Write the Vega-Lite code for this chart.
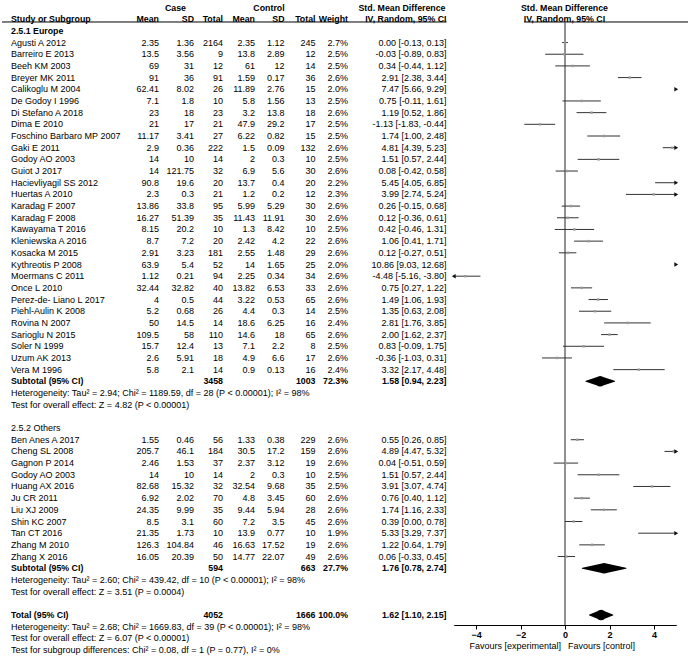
{
  "$schema": "https://vega.github.io/schema/vega-lite/v6.json",
  "width": 688,
  "height": 659,
  "autosize": "none",
  "padding": 0,
  "background": "white",
  "config": {"view": {"stroke": null}},
  "datasets": {
    "cols": [
      {"col": "study", "slot": 1}, {"col": "cm", "slot": 2}, {"col": "csd", "slot": 3}, {"col": "cn", "slot": 4},
      {"col": "km", "slot": 5}, {"col": "ksd", "slot": 6}, {"col": "kn", "slot": 7}, {"col": "w", "slot": 8},
      {"col": "ci", "slot": 9}, {"col": "caseHdr", "slot": 10}, {"col": "ctrlHdr", "slot": 11}, {"col": "smdHdr", "slot": 12},
      {"col": "ph", "slot": 15}
    ],
    "fav": [
      {"label": "Favours [experimental]", "side": "exp"},
      {"label": "Favours [control]", "side": "ctl"}
    ],
    "tbl": [
      {"row": 0, "type": "grp", "caseHdr": "Case", "ctrlHdr": "Control", "smdHdr": "Std. Mean Difference", "ph": "Std. Mean Difference"},
      {"row": 1, "type": "hdr", "study": "Study or Subgroup", "cm": "Mean", "csd": "SD", "cn": "Total", "km": "Mean", "ksd": "SD", "kn": "Total", "w": "Weight", "ci": "IV, Random, 95% CI", "ph": "IV, Random, 95% CI"},
      {"row": 2, "type": "sec1", "study": "2.5.1 Europe"},
      {"row": 3, "type": "study", "study": "Agusti A 2012", "cm": 2.35, "csd": 1.36, "cn": 2164, "km": 2.35, "ksd": 1.12, "kn": 245, "w": "2.7%", "ci": "0.00 [-0.13, 0.13]", "est": 0.00, "lo": -0.13, "hi": 0.13},
      {"row": 4, "type": "study", "study": "Barreiro E 2013", "cm": 13.5, "csd": 3.56, "cn": 9, "km": 13.8, "ksd": 2.89, "kn": 12, "w": "2.5%", "ci": "-0.03 [-0.89, 0.83]", "est": -0.03, "lo": -0.89, "hi": 0.83},
      {"row": 5, "type": "study", "study": "Beeh KM 2003", "cm": 69, "csd": 31, "cn": 12, "km": 61, "ksd": 12, "kn": 14, "w": "2.5%", "ci": "0.34 [-0.44, 1.12]", "est": 0.34, "lo": -0.44, "hi": 1.12},
      {"row": 6, "type": "study", "study": "Breyer MK 2011", "cm": 91, "csd": 36, "cn": 91, "km": 1.59, "ksd": 0.17, "kn": 36, "w": "2.6%", "ci": "2.91 [2.38, 3.44]", "est": 2.91, "lo": 2.38, "hi": 3.44},
      {"row": 7, "type": "study", "study": "Calikoglu M 2004", "cm": 62.41, "csd": 8.02, "cn": 26, "km": 11.89, "ksd": 2.76, "kn": 15, "w": "2.0%", "ci": "7.47 [5.66, 9.29]", "est": 7.47, "lo": 5.66, "hi": 9.29},
      {"row": 8, "type": "study", "study": "De Godoy I 1996", "cm": 7.1, "csd": 1.8, "cn": 10, "km": 5.8, "ksd": 1.56, "kn": 13, "w": "2.5%", "ci": "0.75 [-0.11, 1.61]", "est": 0.75, "lo": -0.11, "hi": 1.61},
      {"row": 9, "type": "study", "study": "Di Stefano A 2018", "cm": 23, "csd": 18, "cn": 23, "km": 3.2, "ksd": 13.8, "kn": 18, "w": "2.6%", "ci": "1.19 [0.52, 1.86]", "est": 1.19, "lo": 0.52, "hi": 1.86},
      {"row": 10, "type": "study", "study": "Dima E 2010", "cm": 21, "csd": 17, "cn": 21, "km": 47.9, "ksd": 29.2, "kn": 17, "w": "2.5%", "ci": "-1.13 [-1.83, -0.44]", "est": -1.13, "lo": -1.83, "hi": -0.44},
      {"row": 11, "type": "study", "study": "Foschino Barbaro MP 2007", "cm": 11.17, "csd": 3.41, "cn": 27, "km": 6.22, "ksd": 0.82, "kn": 15, "w": "2.5%", "ci": "1.74 [1.00, 2.48]", "est": 1.74, "lo": 1.00, "hi": 2.48},
      {"row": 12, "type": "study", "study": "Gaki E 2011", "cm": 2.9, "csd": 0.36, "cn": 222, "km": 1.5, "ksd": 0.09, "kn": 132, "w": "2.6%", "ci": "4.81 [4.39, 5.23]", "est": 4.81, "lo": 4.39, "hi": 5.23},
      {"row": 13, "type": "study", "study": "Godoy AO 2003", "cm": 14, "csd": 10, "cn": 14, "km": 2, "ksd": 0.3, "kn": 10, "w": "2.5%", "ci": "1.51 [0.57, 2.44]", "est": 1.51, "lo": 0.57, "hi": 2.44},
      {"row": 14, "type": "study", "study": "Guiot J 2017", "cm": 14, "csd": 121.75, "cn": 32, "km": 6.9, "ksd": 5.6, "kn": 30, "w": "2.6%", "ci": "0.08 [-0.42, 0.58]", "est": 0.08, "lo": -0.42, "hi": 0.58},
      {"row": 15, "type": "study", "study": "Hacievliyagil SS 2012", "cm": 90.8, "csd": 19.6, "cn": 20, "km": 13.7, "ksd": 0.4, "kn": 20, "w": "2.2%", "ci": "5.45 [4.05, 6.85]", "est": 5.45, "lo": 4.05, "hi": 6.85},
      {"row": 16, "type": "study", "study": "Huertas A 2010", "cm": 2.3, "csd": 0.3, "cn": 21, "km": 1.2, "ksd": 0.2, "kn": 12, "w": "2.3%", "ci": "3.99 [2.74, 5.24]", "est": 3.99, "lo": 2.74, "hi": 5.24},
      {"row": 17, "type": "study", "study": "Karadag F 2007", "cm": 13.86, "csd": 33.8, "cn": 95, "km": 5.99, "ksd": 5.29, "kn": 30, "w": "2.6%", "ci": "0.26 [-0.15, 0.68]", "est": 0.26, "lo": -0.15, "hi": 0.68},
      {"row": 18, "type": "study", "study": "Karadag F 2008", "cm": 16.27, "csd": 51.39, "cn": 35, "km": 11.43, "ksd": 11.91, "kn": 30, "w": "2.6%", "ci": "0.12 [-0.36, 0.61]", "est": 0.12, "lo": -0.36, "hi": 0.61},
      {"row": 19, "type": "study", "study": "Kawayama T 2016", "cm": 8.15, "csd": 20.2, "cn": 10, "km": 1.3, "ksd": 8.42, "kn": 10, "w": "2.5%", "ci": "0.42 [-0.46, 1.31]", "est": 0.42, "lo": -0.46, "hi": 1.31},
      {"row": 20, "type": "study", "study": "Kleniewska A 2016", "cm": 8.7, "csd": 7.2, "cn": 20, "km": 2.42, "ksd": 4.2, "kn": 22, "w": "2.6%", "ci": "1.06 [0.41, 1.71]", "est": 1.06, "lo": 0.41, "hi": 1.71},
      {"row": 21, "type": "study", "study": "Kosacka M 2015", "cm": 2.91, "csd": 3.23, "cn": 181, "km": 2.55, "ksd": 1.48, "kn": 29, "w": "2.6%", "ci": "0.12 [-0.27, 0.51]", "est": 0.12, "lo": -0.27, "hi": 0.51},
      {"row": 22, "type": "study", "study": "Kythreotis P 2008", "cm": 63.9, "csd": 5.4, "cn": 52, "km": 14, "ksd": 1.65, "kn": 25, "w": "2.0%", "ci": "10.86 [9.03, 12.68]", "est": 10.86, "lo": 9.03, "hi": 12.68},
      {"row": 23, "type": "study", "study": "Moermans C 2011", "cm": 1.12, "csd": 0.21, "cn": 94, "km": 2.25, "ksd": 0.34, "kn": 34, "w": "2.6%", "ci": "-4.48 [-5.16, -3.80]", "est": -4.48, "lo": -5.16, "hi": -3.80},
      {"row": 24, "type": "study", "study": "Once L 2010", "cm": 32.44, "csd": 32.82, "cn": 40, "km": 13.82, "ksd": 6.53, "kn": 33, "w": "2.6%", "ci": "0.75 [0.27, 1.22]", "est": 0.75, "lo": 0.27, "hi": 1.22},
      {"row": 25, "type": "study", "study": "Perez-de- Liano L 2017", "cm": 4, "csd": 0.5, "cn": 44, "km": 3.22, "ksd": 0.53, "kn": 65, "w": "2.6%", "ci": "1.49 [1.06, 1.93]", "est": 1.49, "lo": 1.06, "hi": 1.93},
      {"row": 26, "type": "study", "study": "Piehl-Aulin K 2008", "cm": 5.2, "csd": 0.68, "cn": 26, "km": 4.4, "ksd": 0.3, "kn": 14, "w": "2.5%", "ci": "1.35 [0.63, 2.08]", "est": 1.35, "lo": 0.63, "hi": 2.08},
      {"row": 27, "type": "study", "study": "Rovina N 2007", "cm": 50, "csd": 14.5, "cn": 14, "km": 18.6, "ksd": 6.25, "kn": 16, "w": "2.4%", "ci": "2.81 [1.76, 3.85]", "est": 2.81, "lo": 1.76, "hi": 3.85},
      {"row": 28, "type": "study", "study": "Sarioglu N 2015", "cm": 109.5, "csd": 58, "cn": 110, "km": 14.6, "ksd": 18, "kn": 65, "w": "2.6%", "ci": "2.00 [1.62, 2.37]", "est": 2.00, "lo": 1.62, "hi": 2.37},
      {"row": 29, "type": "study", "study": "Soler N 1999", "cm": 15.7, "csd": 12.4, "cn": 13, "km": 7.1, "ksd": 2.2, "kn": 8, "w": "2.5%", "ci": "0.83 [-0.09, 1.75]", "est": 0.83, "lo": -0.09, "hi": 1.75},
      {"row": 30, "type": "study", "study": "Uzum AK 2013", "cm": 2.6, "csd": 5.91, "cn": 18, "km": 4.9, "ksd": 6.6, "kn": 17, "w": "2.6%", "ci": "-0.36 [-1.03, 0.31]", "est": -0.36, "lo": -1.03, "hi": 0.31},
      {"row": 31, "type": "study", "study": "Vera M 1996", "cm": 5.8, "csd": 2.1, "cn": 14, "km": 0.9, "ksd": 0.13, "kn": 16, "w": "2.4%", "ci": "3.32 [2.17, 4.48]", "est": 3.32, "lo": 2.17, "hi": 4.48},
      {"row": 32, "type": "sub", "study": "Subtotal (95% CI)", "cn": 3458, "kn": 1003, "w": "72.3%", "ci": "1.58 [0.94, 2.23]", "est": 1.58, "lo": 0.94, "hi": 2.23},
      {"row": 33, "type": "note", "study": "Heterogeneity: Tau² = 2.94; Chi² = 1189.59, df = 28 (P < 0.00001); I² = 98%"},
      {"row": 34, "type": "note", "study": "Test for overall effect: Z = 4.82 (P < 0.00001)"},
      {"row": 36, "type": "sec2", "study": "2.5.2 Others"},
      {"row": 37, "type": "study", "study": "Ben Anes A 2017", "cm": 1.55, "csd": 0.46, "cn": 56, "km": 1.33, "ksd": 0.38, "kn": 229, "w": "2.6%", "ci": "0.55 [0.26, 0.85]", "est": 0.55, "lo": 0.26, "hi": 0.85},
      {"row": 38, "type": "study", "study": "Cheng SL 2008", "cm": 205.7, "csd": 46.1, "cn": 184, "km": 30.5, "ksd": 17.2, "kn": 159, "w": "2.6%", "ci": "4.89 [4.47, 5.32]", "est": 4.89, "lo": 4.47, "hi": 5.32},
      {"row": 39, "type": "study", "study": "Gagnon P 2014", "cm": 2.46, "csd": 1.53, "cn": 37, "km": 2.37, "ksd": 3.12, "kn": 19, "w": "2.6%", "ci": "0.04 [-0.51, 0.59]", "est": 0.04, "lo": -0.51, "hi": 0.59},
      {"row": 40, "type": "study", "study": "Godoy AO 2003", "cm": 14, "csd": 10, "cn": 14, "km": 2, "ksd": 0.3, "kn": 10, "w": "2.5%", "ci": "1.51 [0.57, 2.44]", "est": 1.51, "lo": 0.57, "hi": 2.44},
      {"row": 41, "type": "study", "study": "Huang AX 2016", "cm": 82.68, "csd": 15.32, "cn": 32, "km": 32.54, "ksd": 9.68, "kn": 35, "w": "2.5%", "ci": "3.91 [3.07, 4.74]", "est": 3.91, "lo": 3.07, "hi": 4.74},
      {"row": 42, "type": "study", "study": "Ju CR 2011", "cm": 6.92, "csd": 2.02, "cn": 70, "km": 4.8, "ksd": 3.45, "kn": 60, "w": "2.6%", "ci": "0.76 [0.40, 1.12]", "est": 0.76, "lo": 0.40, "hi": 1.12},
      {"row": 43, "type": "study", "study": "Liu XJ 2009", "cm": 24.35, "csd": 9.99, "cn": 35, "km": 9.44, "ksd": 5.94, "kn": 28, "w": "2.6%", "ci": "1.74 [1.16, 2.33]", "est": 1.74, "lo": 1.16, "hi": 2.33},
      {"row": 44, "type": "study", "study": "Shin KC 2007", "cm": 8.5, "csd": 3.1, "cn": 60, "km": 7.2, "ksd": 3.5, "kn": 45, "w": "2.6%", "ci": "0.39 [0.00, 0.78]", "est": 0.39, "lo": 0.00, "hi": 0.78},
      {"row": 45, "type": "study", "study": "Tan CT 2016", "cm": 21.35, "csd": 1.73, "cn": 10, "km": 13.9, "ksd": 0.77, "kn": 10, "w": "1.9%", "ci": "5.33 [3.29, 7.37]", "est": 5.33, "lo": 3.29, "hi": 7.37},
      {"row": 46, "type": "study", "study": "Zhang M 2010", "cm": 126.3, "csd": 104.84, "cn": 46, "km": 16.63, "ksd": 17.52, "kn": 19, "w": "2.6%", "ci": "1.22 [0.64, 1.79]", "est": 1.22, "lo": 0.64, "hi": 1.79},
      {"row": 47, "type": "study", "study": "Zhang X 2016", "cm": 16.05, "csd": 20.39, "cn": 50, "km": 14.77, "ksd": 22.07, "kn": 49, "w": "2.6%", "ci": "0.06 [-0.33, 0.45]", "est": 0.06, "lo": -0.33, "hi": 0.45},
      {"row": 48, "type": "sub", "study": "Subtotal (95% CI)", "cn": 594, "kn": 663, "w": "27.7%", "ci": "1.76 [0.78, 2.74]", "est": 1.76, "lo": 0.78, "hi": 2.74},
      {"row": 49, "type": "note", "study": "Heterogeneity: Tau² = 2.60; Chi² = 439.42, df = 10 (P < 0.00001); I² = 98%"},
      {"row": 50, "type": "note", "study": "Test for overall effect: Z = 3.51 (P = 0.0004)"},
      {"row": 52, "type": "total", "study": "Total (95% CI)", "cn": 4052, "kn": 1666, "w": "100.0%", "ci": "1.62 [1.10, 2.15]", "est": 1.62, "lo": 1.10, "hi": 2.15},
      {"row": 53, "type": "note", "study": "Heterogeneity: Tau² = 2.68; Chi² = 1669.83, df = 39 (P < 0.00001); I² = 98%"},
      {"row": 54, "type": "note", "study": "Test for overall effect: Z = 6.07 (P < 0.00001)"},
      {"row": 55, "type": "note", "study": "Test for subgroup differences: Chi² = 0.08, df = 1 (P = 0.77), I² = 0%"}
    ]
  },
  "layer": [
    {
      "layer": [
        {
          "data": {"name": "tbl"},
          "transform": [
            {"fold": ["study", "cm", "csd", "cn", "km", "ksd", "kn", "w", "ci", "caseHdr", "ctrlHdr", "smdHdr", "ph"], "as": ["col", "val"]},
            {"filter": "isValid(datum.val)"},
            {"filter": "datum.col == 'study' && indexof(['hdr','sub','total','sec1'], datum.type) >= 0"},
            {"lookup": "col", "from": {"data": {"name": "cols"}, "key": "col", "fields": ["slot"]}}
          ],
          "mark": {"type": "text", "align": "left", "baseline": "middle", "font": "Liberation Sans", "fontSize": 8.8, "fontWeight": "bold", "color": "#000"},
          "encoding": {
            "x": {"field": "slot", "type": "quantitative", "axis": null, "scale": {"domain": [0,1,2,3,4,5,6,7,8,9,10,11,12,13,14,15], "range": [2,11,159,194,223,255,284.5,315.5,348,446.5,175.5,269,402,524,688,564.5], "zero": false, "nice": false}},
            "y": {"field": "row", "type": "quantitative", "axis": null, "scale": {"domain": [0, 55], "range": [7.5, 650], "zero": false, "nice": false}},
            "text": {"field": "val", "type": "nominal"}
          }
        },
        {
          "data": {"name": "tbl"},
          "transform": [
            {"fold": ["study", "cm", "csd", "cn", "km", "ksd", "kn", "w", "ci", "caseHdr", "ctrlHdr", "smdHdr", "ph"], "as": ["col", "val"]},
            {"filter": "isValid(datum.val)"},
            {"filter": "datum.col == 'study' && indexof(['study','note','sec2'], datum.type) >= 0"},
            {"lookup": "col", "from": {"data": {"name": "cols"}, "key": "col", "fields": ["slot"]}}
          ],
          "mark": {"type": "text", "align": "left", "baseline": "middle", "font": "Liberation Sans", "fontSize": 9, "color": "#000"},
          "encoding": {
            "x": {"field": "slot", "type": "quantitative", "axis": null, "scale": {"domain": [0,1,2,3,4,5,6,7,8,9,10,11,12,13,14,15], "range": [2,11,159,194,223,255,284.5,315.5,348,446.5,175.5,269,402,524,688,564.5], "zero": false, "nice": false}},
            "y": {"field": "row", "type": "quantitative", "axis": null, "scale": {"domain": [0, 55], "range": [7.5, 650], "zero": false, "nice": false}},
            "text": {"field": "val", "type": "nominal"}
          }
        },
        {
          "data": {"name": "tbl"},
          "transform": [
            {"fold": ["study", "cm", "csd", "cn", "km", "ksd", "kn", "w", "ci", "caseHdr", "ctrlHdr", "smdHdr", "ph"], "as": ["col", "val"]},
            {"filter": "isValid(datum.val)"},
            {"filter": "indexof(['cm','csd','cn','km','ksd','kn','w','ci'], datum.col) >= 0 && indexof(['hdr','sub','total'], datum.type) >= 0"},
            {"lookup": "col", "from": {"data": {"name": "cols"}, "key": "col", "fields": ["slot"]}}
          ],
          "mark": {"type": "text", "align": "right", "baseline": "middle", "font": "Liberation Sans", "fontSize": 8.8, "fontWeight": "bold", "color": "#000"},
          "encoding": {
            "x": {"field": "slot", "type": "quantitative", "axis": null, "scale": {"domain": [0,1,2,3,4,5,6,7,8,9,10,11,12,13,14,15], "range": [2,11,159,194,223,255,284.5,315.5,348,446.5,175.5,269,402,524,688,564.5], "zero": false, "nice": false}},
            "y": {"field": "row", "type": "quantitative", "axis": null, "scale": {"domain": [0, 55], "range": [7.5, 650], "zero": false, "nice": false}},
            "text": {"field": "val", "type": "nominal"}
          }
        },
        {
          "data": {"name": "tbl"},
          "transform": [
            {"fold": ["study", "cm", "csd", "cn", "km", "ksd", "kn", "w", "ci", "caseHdr", "ctrlHdr", "smdHdr", "ph"], "as": ["col", "val"]},
            {"filter": "isValid(datum.val)"},
            {"filter": "indexof(['cm','csd','cn','km','ksd','kn','w','ci'], datum.col) >= 0 && datum.type == 'study'"},
            {"lookup": "col", "from": {"data": {"name": "cols"}, "key": "col", "fields": ["slot"]}}
          ],
          "mark": {"type": "text", "align": "right", "baseline": "middle", "font": "Liberation Sans", "fontSize": 9, "color": "#000"},
          "encoding": {
            "x": {"field": "slot", "type": "quantitative", "axis": null, "scale": {"domain": [0,1,2,3,4,5,6,7,8,9,10,11,12,13,14,15], "range": [2,11,159,194,223,255,284.5,315.5,348,446.5,175.5,269,402,524,688,564.5], "zero": false, "nice": false}},
            "y": {"field": "row", "type": "quantitative", "axis": null, "scale": {"domain": [0, 55], "range": [7.5, 650], "zero": false, "nice": false}},
            "text": {"field": "val", "type": "nominal"}
          }
        },
        {
          "data": {"name": "tbl"},
          "transform": [
            {"fold": ["study", "cm", "csd", "cn", "km", "ksd", "kn", "w", "ci", "caseHdr", "ctrlHdr", "smdHdr", "ph"], "as": ["col", "val"]},
            {"filter": "isValid(datum.val)"},
            {"filter": "indexof(['caseHdr','ctrlHdr','smdHdr','ph'], datum.col) >= 0"},
            {"lookup": "col", "from": {"data": {"name": "cols"}, "key": "col", "fields": ["slot"]}}
          ],
          "mark": {"type": "text", "align": "center", "baseline": "middle", "font": "Liberation Sans", "fontSize": 8.8, "fontWeight": "bold", "color": "#000"},
          "encoding": {
            "x": {"field": "slot", "type": "quantitative", "axis": null, "scale": {"domain": [0,1,2,3,4,5,6,7,8,9,10,11,12,13,14,15], "range": [2,11,159,194,223,255,284.5,315.5,348,446.5,175.5,269,402,524,688,564.5], "zero": false, "nice": false}},
            "y": {"field": "row", "type": "quantitative", "axis": null, "scale": {"domain": [0, 55], "range": [7.5, 650], "zero": false, "nice": false}},
            "text": {"field": "val", "type": "nominal"}
          }
        },
        {
          "data": {"values": [{}]},
          "mark": {"type": "rule", "color": "#000", "strokeWidth": 1},
          "encoding": {
            "x": {"datum": 0, "type": "quantitative", "axis": null, "scale": {"domain": [0,1,2,3,4,5,6,7,8,9,10,11,12,13,14,15], "range": [2,11,159,194,223,255,284.5,315.5,348,446.5,175.5,269,402,524,688,564.5], "zero": false, "nice": false}},
            "x2": {"datum": 9},
            "y": {"datum": 1.24, "type": "quantitative", "axis": null, "scale": {"domain": [0, 55], "range": [7.5, 650], "zero": false, "nice": false}}
          }
        },
        {
          "data": {"values": [{}]},
          "mark": {"type": "rule", "color": "#000", "strokeWidth": 1},
          "encoding": {
            "x": {"datum": 13, "type": "quantitative", "axis": null, "scale": {"domain": [0,1,2,3,4,5,6,7,8,9,10,11,12,13,14,15], "range": [2,11,159,194,223,255,284.5,315.5,348,446.5,175.5,269,402,524,688,564.5], "zero": false, "nice": false}},
            "x2": {"datum": 14},
            "y": {"datum": 1.24, "type": "quantitative", "axis": null, "scale": {"domain": [0, 55], "range": [7.5, 650], "zero": false, "nice": false}}
          }
        }
      ]
    },
    {
      "layer": [
        {
          "data": {"values": [{}]},
          "mark": {"type": "rule", "color": "#555", "strokeWidth": 1.3},
          "encoding": {
            "x": {"datum": 0, "type": "quantitative", "scale": {"domain": [-5, 5], "range": [453.75, 676.25], "clamp": true, "zero": false, "nice": false}, "axis": {"orient": "bottom", "offset": -34, "values": [-4, -2, 0, 2, 4], "tickSize": 4, "tickColor": "#000", "domainColor": "#000", "labelFont": "Liberation Sans", "labelFontSize": 9, "labelFontWeight": "bold", "labelColor": "#000", "labelPadding": 1, "title": null, "grid": false, "labelFlush": false}},
            "y": {"datum": 1.24, "type": "quantitative", "axis": null, "scale": {"domain": [0, 55], "range": [7.5, 650], "zero": false, "nice": false}},
            "y2": {"datum": 52.86}
          }
        },
        {
          "data": {"name": "tbl"},
          "transform": [{"filter": "datum.type == 'study'"}],
          "mark": {"type": "rule", "color": "#333", "strokeWidth": 1},
          "encoding": {
            "x": {"field": "lo", "type": "quantitative", "scale": {"domain": [-5, 5], "range": [453.75, 676.25], "clamp": true, "zero": false, "nice": false}, "axis": {"orient": "bottom", "offset": -34, "values": [-4, -2, 0, 2, 4], "tickSize": 4, "tickColor": "#000", "domainColor": "#000", "labelFont": "Liberation Sans", "labelFontSize": 9, "labelFontWeight": "bold", "labelColor": "#000", "labelPadding": 1, "title": null, "grid": false, "labelFlush": false}},
            "x2": {"field": "hi"},
            "y": {"field": "row", "type": "quantitative", "axis": null, "scale": {"domain": [0, 55], "range": [7.5, 650], "zero": false, "nice": false}}
          }
        },
        {
          "data": {"name": "tbl"},
          "transform": [{"filter": "datum.type == 'study' && datum.est >= -5 && datum.est <= 5"}],
          "mark": {"type": "point", "shape": "square", "filled": true, "size": 6, "color": "#999", "opacity": 1},
          "encoding": {
            "x": {"field": "est", "type": "quantitative", "scale": {"domain": [-5, 5], "range": [453.75, 676.25], "clamp": true, "zero": false, "nice": false}, "axis": {"orient": "bottom", "offset": -34, "values": [-4, -2, 0, 2, 4], "tickSize": 4, "tickColor": "#000", "domainColor": "#000", "labelFont": "Liberation Sans", "labelFontSize": 9, "labelFontWeight": "bold", "labelColor": "#000", "labelPadding": 1, "title": null, "grid": false, "labelFlush": false}},
            "y": {"field": "row", "type": "quantitative", "axis": null, "scale": {"domain": [0, 55], "range": [7.5, 650], "zero": false, "nice": false}}
          }
        },
        {
          "data": {"name": "tbl"},
          "transform": [{"filter": "datum.type == 'study' && datum.hi > 5"}],
          "mark": {"type": "point", "shape": "triangle-right", "filled": true, "size": 20, "color": "#111", "opacity": 1},
          "encoding": {
            "x": {"field": "hi", "type": "quantitative", "scale": {"domain": [-5, 5], "range": [453.75, 676.25], "clamp": true, "zero": false, "nice": false}, "axis": {"orient": "bottom", "offset": -34, "values": [-4, -2, 0, 2, 4], "tickSize": 4, "tickColor": "#000", "domainColor": "#000", "labelFont": "Liberation Sans", "labelFontSize": 9, "labelFontWeight": "bold", "labelColor": "#000", "labelPadding": 1, "title": null, "grid": false, "labelFlush": false}},
            "y": {"field": "row", "type": "quantitative", "axis": null, "scale": {"domain": [0, 55], "range": [7.5, 650], "zero": false, "nice": false}}
          }
        },
        {
          "data": {"name": "tbl"},
          "transform": [{"filter": "datum.type == 'study' && datum.lo < -5"}],
          "mark": {"type": "point", "shape": "triangle-left", "filled": true, "size": 20, "color": "#111", "opacity": 1},
          "encoding": {
            "x": {"field": "lo", "type": "quantitative", "scale": {"domain": [-5, 5], "range": [453.75, 676.25], "clamp": true, "zero": false, "nice": false}, "axis": {"orient": "bottom", "offset": -34, "values": [-4, -2, 0, 2, 4], "tickSize": 4, "tickColor": "#000", "domainColor": "#000", "labelFont": "Liberation Sans", "labelFontSize": 9, "labelFontWeight": "bold", "labelColor": "#000", "labelPadding": 1, "title": null, "grid": false, "labelFlush": false}},
            "y": {"field": "row", "type": "quantitative", "axis": null, "scale": {"domain": [0, 55], "range": [7.5, 650], "zero": false, "nice": false}}
          }
        },
        {
          "data": {"name": "tbl"},
          "transform": [
            {"filter": "datum.type == 'sub' || datum.type == 'total'"},
            {"fold": ["lo", "est", "hi"], "as": ["pt", "xv"]}
          ],
          "mark": {"type": "trail", "color": "#000"},
          "encoding": {
            "x": {"field": "xv", "type": "quantitative", "scale": {"domain": [-5, 5], "range": [453.75, 676.25], "clamp": true, "zero": false, "nice": false}, "axis": {"orient": "bottom", "offset": -34, "values": [-4, -2, 0, 2, 4], "tickSize": 4, "tickColor": "#000", "domainColor": "#000", "labelFont": "Liberation Sans", "labelFontSize": 9, "labelFontWeight": "bold", "labelColor": "#000", "labelPadding": 1, "title": null, "grid": false, "labelFlush": false}},
            "y": {"field": "row", "type": "quantitative", "axis": null, "scale": {"domain": [0, 55], "range": [7.5, 650], "zero": false, "nice": false}},
            "size": {"field": "pt", "type": "ordinal", "scale": {"type": "ordinal", "domain": ["lo", "est", "hi"], "range": [0, 10.5, 0]}, "legend": null},
            "detail": {"field": "row", "type": "nominal"},
            "order": {"field": "xv", "type": "quantitative"}
          }
        },
        {
          "data": {"name": "fav"},
          "transform": [{"filter": "datum.side == 'exp'"}],
          "mark": {"type": "text", "align": "right", "baseline": "middle", "dx": -4, "font": "Liberation Sans", "fontSize": 9, "color": "#000"},
          "encoding": {
            "x": {"datum": 0, "type": "quantitative", "scale": {"domain": [-5, 5], "range": [453.75, 676.25], "clamp": true, "zero": false, "nice": false}, "axis": {"orient": "bottom", "offset": -34, "values": [-4, -2, 0, 2, 4], "tickSize": 4, "tickColor": "#000", "domainColor": "#000", "labelFont": "Liberation Sans", "labelFontSize": 9, "labelFontWeight": "bold", "labelColor": "#000", "labelPadding": 1, "title": null, "grid": false, "labelFlush": false}},
            "y": {"datum": 54.62, "type": "quantitative", "axis": null, "scale": {"domain": [0, 55], "range": [7.5, 650], "zero": false, "nice": false}},
            "text": {"field": "label", "type": "nominal"}
          }
        },
        {
          "data": {"name": "fav"},
          "transform": [{"filter": "datum.side == 'ctl'"}],
          "mark": {"type": "text", "align": "left", "baseline": "middle", "dx": 3, "font": "Liberation Sans", "fontSize": 9, "color": "#000"},
          "encoding": {
            "x": {"datum": 0, "type": "quantitative", "scale": {"domain": [-5, 5], "range": [453.75, 676.25], "clamp": true, "zero": false, "nice": false}, "axis": {"orient": "bottom", "offset": -34, "values": [-4, -2, 0, 2, 4], "tickSize": 4, "tickColor": "#000", "domainColor": "#000", "labelFont": "Liberation Sans", "labelFontSize": 9, "labelFontWeight": "bold", "labelColor": "#000", "labelPadding": 1, "title": null, "grid": false, "labelFlush": false}},
            "y": {"datum": 54.62, "type": "quantitative", "axis": null, "scale": {"domain": [0, 55], "range": [7.5, 650], "zero": false, "nice": false}},
            "text": {"field": "label", "type": "nominal"}
          }
        }
      ]
    }
  ],
  "resolve": {"scale": {"x": "independent"}, "axis": {"x": "independent"}}
}
